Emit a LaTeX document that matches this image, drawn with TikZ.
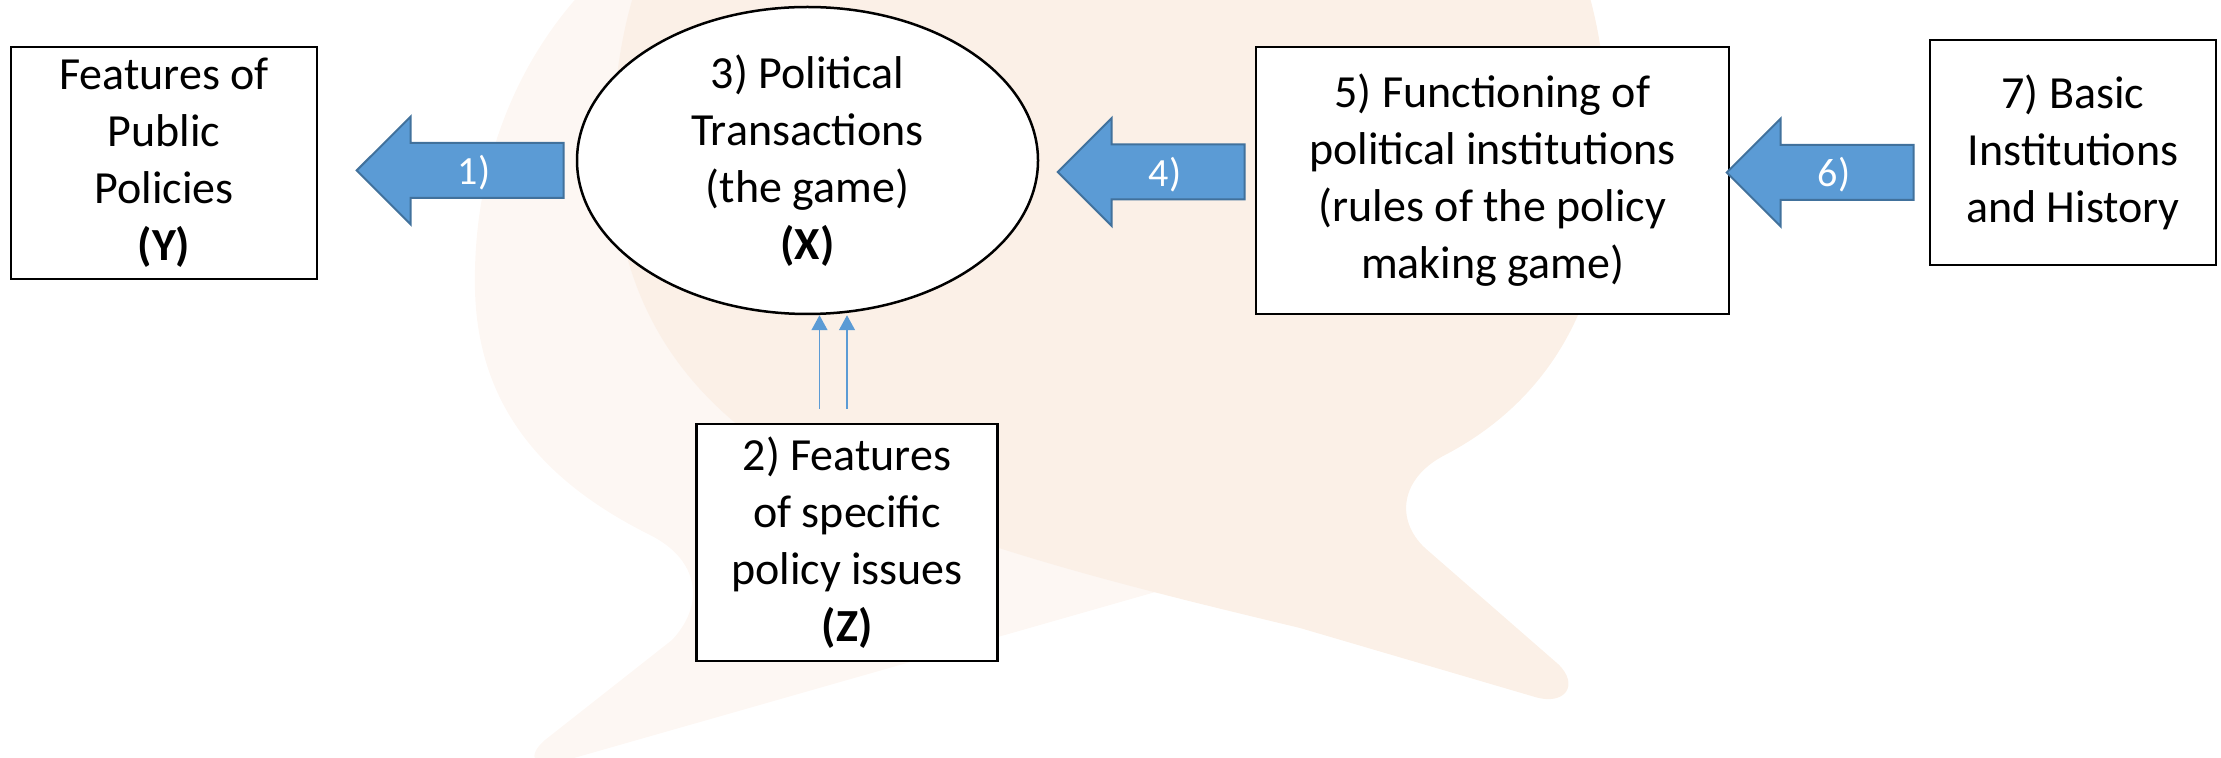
\documentclass[tikz,border=0pt]{standalone}
\usepackage{fontspec}
\setmainfont{Carlito}
\usetikzlibrary{arrows.meta,calc,positioning,shapes.geometric,shapes.arrows}
\definecolor{arrowblue}{HTML}{5B9BD5}
\definecolor{arrowedge}{HTML}{41719C}
\definecolor{bgdark}{HTML}{FBF0E7}
\definecolor{bglight}{HTML}{FDF7F3}
\tikzset{
  box/.style={draw,line width=1.25pt,fill=white,align=center,inner sep=0pt,
    font=\fontsize{23}{28.5}\selectfont},
  game/.style={box,ellipse,inner sep=-6pt},
  bigarrow/.style={single arrow,shape border rotate=180,fill=arrowblue,draw=arrowedge,
    line width=1pt,text=white,font=\fontsize{20}{24}\selectfont,
    text height=20.5pt,text depth=6pt,inner ysep=0pt,inner xsep=2pt,
    single arrow head extend=13.25pt,minimum width=53pt,anchor=tip},
  thinarrow/.style={draw=arrowblue,line width=0.75pt,-{Triangle[width=8pt,length=7.5pt]}}
}

\begin{document}
\begin{tikzpicture}[x=0.5pt,y=-0.5pt]
  \useasboundingbox (0,0) rectangle (2221,758);
  % speech bubbles in the background
  \begin{scope}
    \clip (0,0) rectangle (2221,758);
    \fill[bglight] (640,-60) .. controls (530,20) and (472,150) .. (475,290)
      .. controls (478,420) and (560,490) .. (650,535)
      .. controls (700,560) and (705,605) .. (672,640)
      -- (545,740) .. controls (525,757) and (535,770) .. (560,762)
      -- (1180,585) -- (1100,300) -- cycle;
    \fill[bgdark] (655,-60) .. controls (625,0) and (612,80) .. (613,150)
      .. controls (614,260) and (650,350) .. (733,421)
      .. controls (850,520) and (1100,580) .. (1300,628)
      -- (1535,697) .. controls (1565,706) and (1580,685) .. (1558,664)
      -- (1425,548) .. controls (1395,520) and (1400,478) .. (1445,455)
      .. controls (1550,400) and (1608,300) .. (1608,160)
      .. controls (1608,60) and (1595,0) .. (1570,-60) -- cycle;
  \end{scope}

  \node[box,minimum width=153pt,minimum height=116pt] (y) at (164,163)
    {Features of\\Public\\Policies\\\textbf{(Y)}};
  \node[game,minimum width=230.5pt,minimum height=153.5pt] (x)
    [right of=y,node distance=321.75pt,yshift=1.25pt]
    {3) Political\\Transactions\\(the game)\\\textbf{(X)}};
  \node[box,minimum width=236.5pt,minimum height=133.5pt] (inst)
    [right of=x,node distance=342.5pt,yshift=-10pt]
    {5) Functioning of\\political institutions\\(rules of the policy\\making game)};
  \node[box,minimum width=143pt,minimum height=112.5pt] (hist)
    [right of=inst,node distance=290.25pt,yshift=14pt]
    {7) Basic\\Institutions\\and History};
  \node[box,minimum width=150.5pt,minimum height=118.5pt] (issue)
    [below of=x,node distance=191pt,xshift=19.75pt]
    {2) Features\\of specific\\policy issues\\\textbf{(Z)}};

  \node[bigarrow,minimum height=103.5pt] (a1) at ([xshift=18.5pt,yshift=-3.75pt]y.east) {1)};
  \node[bigarrow,minimum height=93.5pt] (a4) at ([xshift=8.5pt,yshift=-5.75pt]x.east) {4)};
  \node[bigarrow,minimum height=93.5pt] (a6) at ([xshift=-2.5pt,yshift=4pt]inst.east) {6)};

  \coordinate (z1) at ([xshift=-13.75pt,yshift=7pt]issue.north);
  \coordinate (z2) at ([yshift=7pt]issue.north);
  \draw[thinarrow] (z1) -- (z1 |- x.south);
  \draw[thinarrow] (z2) -- (z2 |- x.south);
\end{tikzpicture}
\end{document}
